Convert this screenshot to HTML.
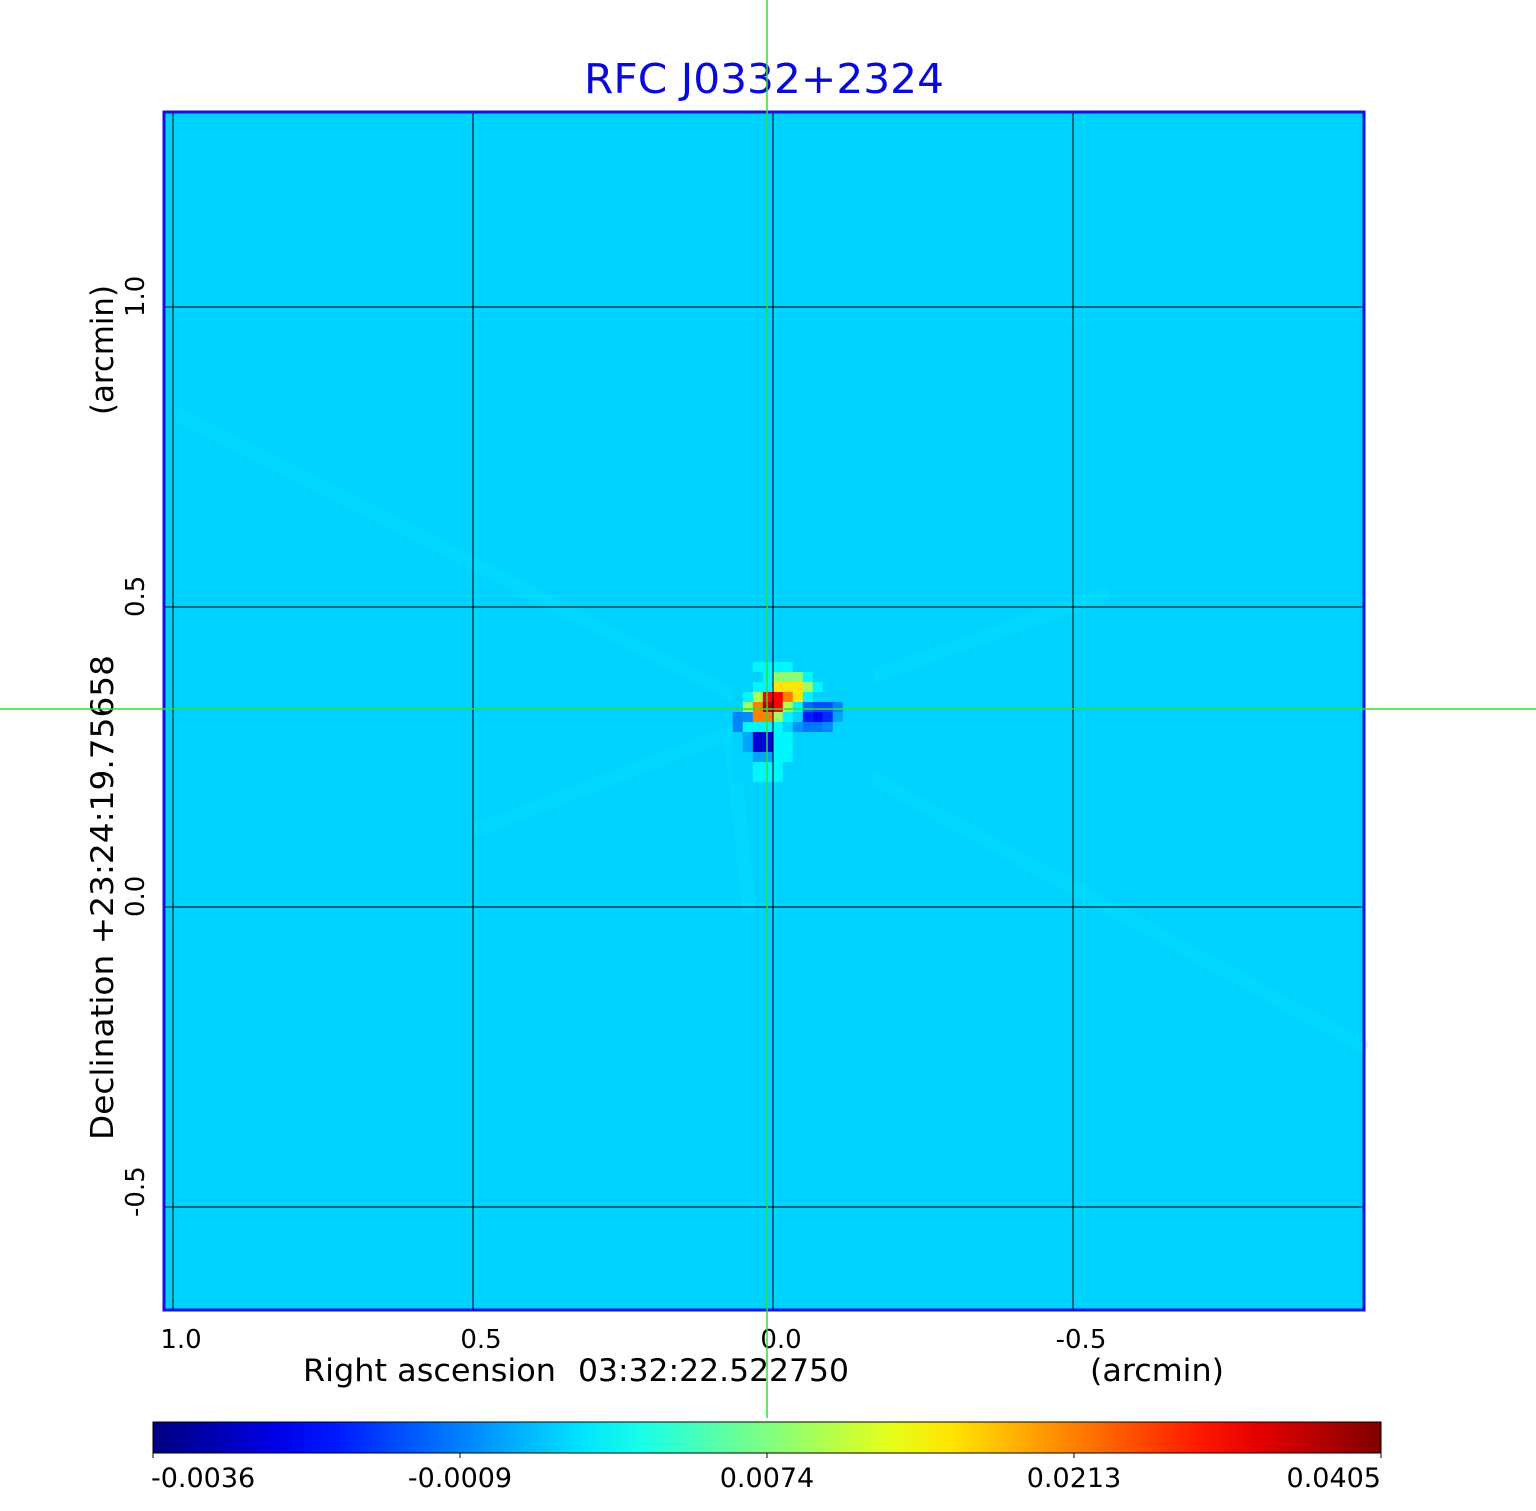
<!DOCTYPE html>
<html><head><meta charset="utf-8"><style>
html,body{margin:0;padding:0;background:#fff;}
svg{display:block;font-family:"DejaVu Sans","Liberation Sans",sans-serif;}
</style></head><body>
<svg id="chart" width="1536" height="1511" viewBox="0 0 1536 1511" xmlns="http://www.w3.org/2000/svg">
<text x="764" y="93" text-anchor="middle" font-size="41" fill="#0a0ad8" textLength="360" lengthAdjust="spacingAndGlyphs">RFC J0332+2324</text>
<g id="plot"></g>
<g id="axes"></g>
</svg>
<script>
// colorbar tick values (Jy/beam)
const cbarTicks = [-0.0036, -0.0009, 0.0074, 0.0213, 0.0405];
const cbarLabels = ["-0.0036", "-0.0009", "0.0074", "0.0213", "0.0405"];
// axis tick values (arcmin)
const xTicks = [1.0, 0.5, 0.0, -0.5];
const xTickLabels = ["1.0", "0.5", "0.0", "-0.5"];
const yTicks = [1.0, 0.5, 0.0, -0.5];
const yTickLabels = ["1.0", "0.5", "0.0", "-0.5"];
const backgroundValue = 0.0018;
// central cells (rows top to bottom, cols left to right), Jy/beam
const cellValues = [
 [0.0018,0.0018,0.003,0.003,0.003,0.003,0.0018,0.0018,0.0018,0.0018,0.0018,0.0018,0.0018,0.0018],
 [0.0018,0.0018,0.0018,0.003,0.008,0.008,0.008,0.003,0.0018,0.0018,0.0018,0.0018,0.0018,0.0018],
 [0.0018,0.0018,0.003,0.003,0.0157,0.0157,0.0157,0.009,0.003,0.0018,0.0018,0.0018,0.0018,0.0018],
 [0.0018,0.003,0.010,0.031,0.031,0.0213,0.0157,0.003,0.0018,0.0018,0.0018,0.0018,0.0018,0.0018],
 [0.0018,0.009,0.0213,0.037,0.031,0.010,0.003,-0.0012,-0.0014,-0.0014,-0.0008,0.0018,0.0018,0.0018],
 [-0.0008,-0.0005,0.0213,0.0213,0.009,0.003,0.0018,-0.0020,-0.0022,-0.0018,0.0003,0.0018,0.0018,0.0018],
 [-0.0008,0.003,0.003,0.003,0.003,0.0018,-0.0003,-0.0010,-0.0010,-0.0006,0.0018,0.0018,0.0018,0.0018],
 [0.0018,0.0003,-0.0027,-0.0025,0.003,0.003,0.0018,0.0018,0.0018,0.0018,0.0018,0.0018,0.0018,0.0018],
 [0.0018,0.0003,-0.0027,-0.0025,0.003,0.003,0.0018,0.0018,0.0018,0.0018,0.0018,0.0018,0.0018,0.0018],
 [0.0018,0.0018,0.0003,0.0003,0.003,0.003,0.0018,0.0018,0.0018,0.0018,0.0018,0.0018,0.0018,0.0018],
 [0.0018,0.0018,0.003,0.003,0.003,0.0018,0.0018,0.0018,0.0018,0.0018,0.0018,0.0018,0.0018,0.0018],
 [0.0018,0.0018,0.003,0.003,0.003,0.0018,0.0018,0.0018,0.0018,0.0018,0.0018,0.0018,0.0018,0.0018]
];
// cell grid offset (arcmin) of top-left cell relative to axes origin
const cellOriginX = 0.067, cellOriginY = 0.4083, cellSize = 1/60;
// faint sidelobe streaks: [x1,y1,x2,y2] in arcmin
const streaks = [[0.99,0.82,0.02,0.33],[-0.01,0.30,-0.98,-0.23],[0.49,0.13,0.02,0.31],[-0.01,0.33,-0.55,0.52],[0.07,0.28,0.04,0.0]];

const NS="http://www.w3.org/2000/svg";
const L=163,R=1365,T=111,B=1311;
const xs=v=>773-v*600; // arcmin -> px
const ys=v=>907-v*600;
const cbL=153,cbR=1381;
function tOf(v){for(let i=0;i<4;i++){if(v<=cbarTicks[i+1]||i===3){let t=(v-cbarTicks[i])/(cbarTicks[i+1]-cbarTicks[i]);return Math.max(0,Math.min(1,(i+t)/4));}}}
function jet(t){const c=x=>Math.max(0,Math.min(1,x));
 const r=c(Math.min(4*t-1.5,-4*t+4.5)),g=c(Math.min(4*t-0.5,-4*t+3.5)),b=c(Math.min(4*t+0.5,-4*t+2.5));
 return `rgb(${Math.round(r*255)},${Math.round(g*255)},${Math.round(b*255)})`;}
function mk(tag,attrs,parent){const e=document.createElementNS(NS,tag);for(const k in attrs)e.setAttribute(k,attrs[k]);parent.appendChild(e);return e;}
const plot=document.getElementById('plot'),axes=document.getElementById('axes');
let bg=mk('rect',{x:L,y:T,width:R-L,height:B-T,fill:jet(tOf(backgroundValue))},plot);


streaks.forEach(s=>{let ln=mk('line',{x1:xs(s[0]),y1:ys(s[1]),x2:xs(s[2]),y2:ys(s[3]),stroke:'#00f0ff','stroke-width':14,'stroke-opacity':0.2,'stroke-linecap':'round'},plot);
 
 });
cellValues.forEach((row,r)=>row.forEach((v,c)=>{
 const x0=xs(cellOriginX-c*cellSize),y0=ys(cellOriginY-r*cellSize);
 let rc=mk('rect',{x:x0,y:y0,width:10.1,height:10.1,fill:jet(tOf(v))},plot);
 
 }));
// grid
xTicks.forEach(v=>{let g=mk('line',{x1:xs(v),y1:T,x2:xs(v),y2:B,stroke:'#000','stroke-width':1},axes);
 
 });
yTicks.forEach(v=>{let g=mk('line',{x1:L,y1:ys(v),x2:R,y2:ys(v),stroke:'#000','stroke-width':1},axes);
 
 });
let fr=mk('rect',{x:L+1,y:T+1,width:R-L-2,height:B-T-2,fill:'none',stroke:'#1212e0','stroke-width':3},axes);


// tick labels
xTicks.forEach((v,i)=>{let t=mk('text',{x:xs(v)+8,y:1348,'text-anchor':'middle','font-size':26,fill:'#000'},axes);t.textContent=xTickLabels[i];
 
 });
yTicks.forEach((v,i)=>{const y=ys(v)+10;let t=mk('text',{x:0,y:0,transform:`translate(144,${y}) rotate(-90)`,'text-anchor':'start','font-size':26,fill:'#000'},axes);t.textContent=yTickLabels[i];
 
 });
// axis titles
let xt=mk('text',{x:303,y:1381,'font-size':31,fill:'#000',textLength:253,lengthAdjust:'spacingAndGlyphs'},axes);xt.textContent='Right ascension';


let xt2=mk('text',{x:578,y:1381,'font-size':31,fill:'#000',textLength:271,lengthAdjust:'spacingAndGlyphs'},axes);xt2.textContent='03:32:22.522750';


let xu=mk('text',{x:1090,y:1381,'font-size':31,fill:'#000',textLength:134,lengthAdjust:'spacingAndGlyphs'},axes);xu.textContent='(arcmin)';


let yt=mk('text',{x:0,y:0,transform:'translate(113,1140) rotate(-90)','font-size':31,fill:'#000',textLength:485,lengthAdjust:'spacingAndGlyphs','xml:space':'preserve'},axes);yt.textContent='Declination  +23:24:19.75658';


let yu=mk('text',{x:0,y:0,transform:'translate(113,415) rotate(-90)','font-size':31,fill:'#000',textLength:130,lengthAdjust:'spacingAndGlyphs'},axes);yu.textContent='(arcmin)';


// crosshair
let ch1=mk('line',{x1:767,y1:0,x2:767,y2:1418,stroke:'#33dd33','stroke-width':1.5},axes);


let ch2=mk('line',{x1:0,y1:709,x2:1536,y2:709,stroke:'#33dd33','stroke-width':1.5},axes);


// colorbar
const defs=mk('defs',{},axes);const grad=mk('linearGradient',{id:'jetg',x1:0,x2:1,y1:0,y2:0},defs);
for(let i=0;i<=20;i++){mk('stop',{offset:i/20,'stop-color':jet(i/20)},grad);}
let cb=mk('rect',{x:cbL,y:1422,width:cbR-cbL,height:31,fill:'url(#jetg)',stroke:'#000','stroke-width':1},axes);


cbarTicks.forEach((v,i)=>{const x=cbL+tOf(v)*(cbR-cbL);
 let tk=mk('line',{x1:x,y1:1453,x2:x,y2:1458,stroke:'#000','stroke-width':1},axes);
 
 
 const anchor=i===0?'start':(i===4?'end':'middle');
 let t=mk('text',{x:i===0?x-2:x,y:1487,'text-anchor':anchor,'font-size':27,fill:'#000'},axes);t.textContent=cbarLabels[i];
 
 });
</script>
</body></html>
